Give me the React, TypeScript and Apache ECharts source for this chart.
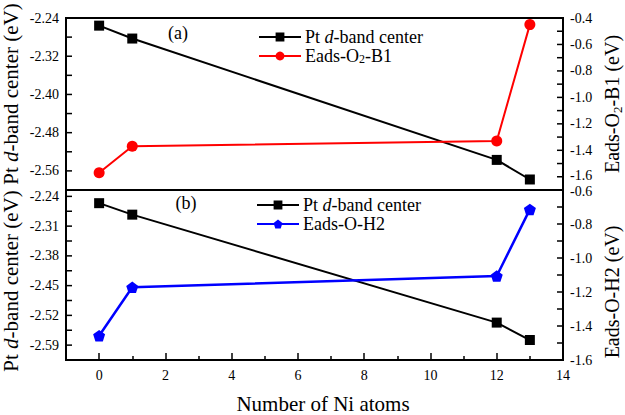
import React, { useEffect, useRef } from "react";
import * as echarts from "echarts";

const niAtoms = [0, 1, 12, 13];
const dBandCenter = [-2.256, -2.283, -2.537, -2.578];
const eadsO2B1 = [-1.57, -1.37, -1.33, -0.45];
const eadsOH2 = [-1.457, -1.172, -1.106, -0.714];

const xMajorTicks = [0, 2, 4, 6, 8, 10, 12, 14];
const xMinorTicks = [1, 3, 5, 7, 9, 11, 13];
const topLeftLabels = [-2.56, -2.48, -2.4, -2.32, -2.24];
const topLeftTicks = [-2.56, -2.52, -2.48, -2.44, -2.4, -2.36, -2.32, -2.28];
const topRightLabels = [-1.6, -1.4, -1.2, -1.0, -0.8, -0.6, -0.4];
const topRightTicks = [-1.6, -1.5, -1.4, -1.3, -1.2, -1.1, -1.0, -0.9, -0.8, -0.7, -0.6, -0.5];
const bottomLeftLabels = [-2.59, -2.52, -2.45, -2.38, -2.31, -2.24];
const bottomLeftTicks = [-2.59, -2.555, -2.52, -2.485, -2.45, -2.415, -2.38, -2.345, -2.31, -2.275, -2.24];
const bottomRightLabels = [-1.6, -1.4, -1.2, -1.0, -0.8, -0.6];
const bottomRightTicks = [-1.5, -1.4, -1.3, -1.2, -1.1, -1.0, -0.9, -0.8, -0.7];

const X_MIN = -1;
const X_MAX = 14;
const FONT = "Liberation Serif";
const PENTAGON = "path://M50,0 L97.55,34.55 L79.39,90.45 L20.61,90.45 L2.45,34.55 Z";

const pairs = (ys: number[]) => niAtoms.map((x, i) => [x, ys[i]]);

export default function App() {
  const ref = useRef<HTMLDivElement>(null);
  useEffect(() => {
    if (!ref.current) return;
    const chart = echarts.init(ref.current, undefined, { renderer: "svg" });
    const labelStyle = { fontFamily: FONT, fontSize: 14, color: "#000" };
    const edgeRich = {
      u: { fontFamily: FONT, fontSize: 14, color: "#000", padding: [0, 0, 3, 0] },
      d: { fontFamily: FONT, fontSize: 14, color: "#000", padding: [3, 0, 0, 0] },
    };
    const yLabels = (
      side: "left" | "right", gridIndex: number, min: number, max: number,
      labels: number[], digits: number, edge?: { value: number; key: string }
    ) => ({
      type: "value", gridIndex, position: side, min, max,
      splitLine: { show: false },
      axisLine: { show: false, onZero: false },
      axisTick: { show: false },
      axisLabel: {
        ...labelStyle, margin: 7, customValues: labels, rich: edgeRich,
        formatter: (v: number) => {
          const s = v.toFixed(digits);
          return edge && Math.abs(v - edge.value) < 1e-9 ? `{${edge.key}|${s}}` : s;
        },
      },
    });
    // inward tick marks, placed through the axis scales
    const tickSeries = (xAxisIndex: number, yAxisIndex: number, atX: number, ticks: number[]) => ({
      type: "custom",
      xAxisIndex,
      yAxisIndex,
      silent: true,
      clip: false,
      data: ticks.map((v) => [atX, v]),
      renderItem: (_params: any, api: any) => {
        const p = api.coord([api.value(0), api.value(1)]);
        const dir = api.value(0) <= X_MIN ? 1 : -1;
        return {
          type: "line",
          shape: { x1: p[0], y1: p[1], x2: p[0] + dir * 6, y2: p[1] },
          style: { stroke: "#000", lineWidth: 1.5 },
        };
      },
    });
    const legendRich = {
      i: { fontStyle: "italic", fontFamily: FONT, fontSize: 18, color: "#000" },
      s: { fontFamily: FONT, fontSize: 12, color: "#000", padding: [6, 0, 0, 0] },
    };
    const legendFormatter = (name: string) => {
      if (name === "Pt d-band center") return "Pt {i|d}-band center";
      if (name === "Eads-O2-B1") return "Eads-O{s|2}-B1";
      return name;
    };
    const legendBase = {
      orient: "vertical",
      itemWidth: 42,
      itemHeight: 11,
      itemGap: 1,
      formatter: legendFormatter,
      textStyle: { fontFamily: FONT, fontSize: 18, lineHeight: 18, color: "#000", rich: legendRich, padding: [0, 0, 0, -1] },
    };
    const nameText = (text: string, x: number, y: number, rot: number, size: number) => ({
      type: "text", x, y, rotation: rot,
      style: {
        text, fontFamily: FONT, fontSize: size, fill: "#000",
        align: "center", verticalAlign: "middle", textAlign: "center", textVerticalAlign: "middle",
        rich: {
          i: { fontStyle: "italic", fontFamily: FONT, fontSize: size, fill: "#000" },
          s: { fontFamily: FONT, fontSize: 13, fill: "#000", padding: [10, 0, 0, 0] },
        },
      },
    });
    chart.setOption({
      animation: false,
      backgroundColor: "#fff",
      textStyle: { fontFamily: FONT },
      grid: [
        { left: 66, top: 18, width: 497, height: 172, show: true, borderColor: "#000", borderWidth: 2 },
        { left: 66, top: 190, width: 497, height: 170, show: true, borderColor: "#000", borderWidth: 2 },
      ],
      xAxis: [
        {
          type: "value", gridIndex: 0, min: X_MIN, max: X_MAX,
          axisLine: { show: false, onZero: false }, axisTick: { show: false }, axisLabel: { show: false }, splitLine: { show: false },
        },
        {
          type: "value", gridIndex: 1, min: X_MIN, max: X_MAX, position: "bottom",
          axisLine: { show: false, onZero: false }, splitLine: { show: false },
          axisTick: { show: true, inside: true, length: 7, customValues: xMajorTicks, lineStyle: { color: "#000", width: 1.5 } },
          axisLabel: { ...labelStyle, margin: 8, customValues: xMajorTicks },
        },
        {
          type: "value", gridIndex: 1, min: X_MIN, max: X_MAX, position: "top", offset: -170,
          axisLine: { show: false, onZero: false }, splitLine: { show: false },
          axisTick: { show: true, inside: false, length: 4, customValues: xMinorTicks, lineStyle: { color: "#000", width: 1.5 } },
          axisLabel: { show: false },
        },
      ],
      yAxis: [
        yLabels("left", 0, -2.6, -2.24, topLeftLabels, 2),
        yLabels("right", 0, -1.7, -0.4, topRightLabels, 1, { value: -1.6, key: "u" }),
        yLabels("left", 1, -2.625, -2.225, bottomLeftLabels, 2),
        yLabels("right", 1, -1.6, -0.6, bottomRightLabels, 1, { value: -0.6, key: "d" }),
      ],
      legend: [
        { ...legendBase, left: 253, top: 23, data: ["Pt d-band center", "Eads-O2-B1"] },
        { ...legendBase, left: 251, top: 191, data: ["Pt d-band center", "Eads-O-H2"] },
      ],
      graphic: [
        nameText("Pt {i|d}-band center (eV)", 11, 94, Math.PI / 2, 21),
        nameText("Pt {i|d}-band center (eV)", 11, 281, Math.PI / 2, 21),
        nameText("Eads-O{s|2}-B1 (eV)", 612, 104, Math.PI / 2, 20),
        nameText("Eads-O-H2 (eV)", 612, 292, Math.PI / 2, 20),
        nameText("Number of Ni atoms", 323, 404, 0, 21),
        { type: "text", x: 178, y: 33, style: { text: "(a)", fontFamily: FONT, fontSize: 18, fill: "#000", align: "center", verticalAlign: "middle", textAlign: "center", textVerticalAlign: "middle" } },
        { type: "text", x: 186, y: 203, style: { text: "(b)", fontFamily: FONT, fontSize: 18, fill: "#000", align: "center", verticalAlign: "middle", textAlign: "center", textVerticalAlign: "middle" } },
      ],
      series: [
        tickSeries(0, 0, X_MIN, topLeftTicks),
        tickSeries(0, 1, X_MAX, topRightTicks),
        tickSeries(1, 2, X_MIN, bottomLeftTicks),
        tickSeries(1, 3, X_MAX, bottomRightTicks),
        {
          name: "Pt d-band center", type: "line", xAxisIndex: 0, yAxisIndex: 0, data: pairs(dBandCenter),
          symbol: "rect", symbolSize: 10, lineStyle: { color: "#000", width: 2 }, itemStyle: { color: "#000" },
        },
        {
          name: "Eads-O2-B1", type: "line", xAxisIndex: 0, yAxisIndex: 1, data: pairs(eadsO2B1),
          symbol: "circle", symbolSize: 11, lineStyle: { color: "#ff0000", width: 2 }, itemStyle: { color: "#ff0000" },
        },
        {
          name: "Pt d-band center", type: "line", xAxisIndex: 1, yAxisIndex: 2, data: pairs(dBandCenter),
          symbol: "rect", symbolSize: 10, lineStyle: { color: "#000", width: 2 }, itemStyle: { color: "#000" },
        },
        {
          name: "Eads-O-H2", type: "line", xAxisIndex: 1, yAxisIndex: 3, data: pairs(eadsOH2),
          symbol: PENTAGON, symbolSize: [12, 11.5], lineStyle: { color: "#0000ff", width: 2.5 }, itemStyle: { color: "#0000ff" },
        },
      ],
    });
    return () => chart.dispose();
  }, []);
  return <div ref={ref} style={{ position: "fixed", left: 0, top: 0, width: 625, height: 415 }} />;
}
